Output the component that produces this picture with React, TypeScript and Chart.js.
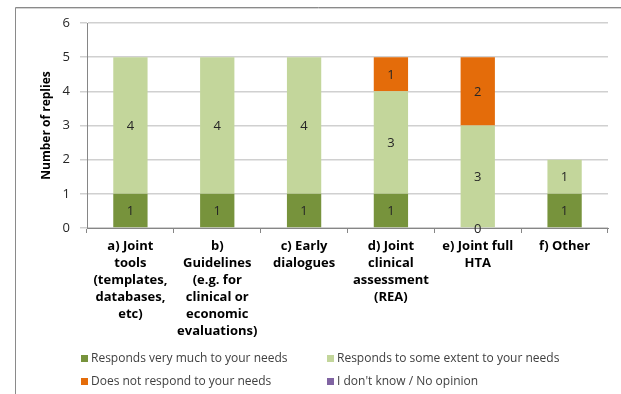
import React, { useEffect, useRef } from "react";
import { Chart, registerables } from "chart.js";

Chart.register(...registerables);

const categories: string[][] = [
  ["a) Joint", "tools", "(templates,", "databases,", "etc)"],
  ["b)", "Guidelines", "(e.g. for", "clinical or", "economic", "evaluations)"],
  ["c) Early", "dialogues"],
  ["d) Joint", "clinical", "assessment", "(REA)"],
  ["e) Joint full", "HTA"],
  ["f) Other"],
];

const seriesNames = [
  "Responds very much to your needs",
  "Responds to some extent to your needs",
  "Does not respond to your needs",
  "I don't know / No opinion",
];

const veryMuch: (number | null)[] = [1, 1, 1, 1, 0, 1];
const someExtent: (number | null)[] = [4, 4, 4, 3, 3, 1];
const notRespond: (number | null)[] = [null, null, null, 1, 2, null];
const dontKnow: (number | null)[] = [null, null, null, null, null, null];

const seriesColors = ["#77933C", "#C3D69B", "#E46C0A", "#8064A2"];

const yMin = 0;
const yMax = 6;
const yStep = 1;

const FONT = "'Open Sans', Lato, sans-serif";

const framePlugin = {
  id: "frame",
  beforeDraw(chart: any) {
    const ctx = chart.ctx;
    ctx.save();
    ctx.fillStyle = "#ffffff";
    ctx.fillRect(0, 0, chart.width, chart.height);
    ctx.strokeStyle = "#8a8a8a";
    ctx.lineWidth = 1;
    ctx.beginPath();
    ctx.moveTo(15.5, chart.height);
    ctx.lineTo(15.5, 7.5);
    ctx.lineTo(chart.width, 7.5);
    ctx.stroke();
    ctx.strokeStyle = "#d4d4d4";
    ctx.beginPath();
    ctx.moveTo(16, 8.5);
    ctx.lineTo(chart.width, 8.5);
    ctx.stroke();
    ctx.restore();
  },
};

const labelPlugin = {
  id: "valueLabels",
  afterDatasetsDraw(chart: any) {
    const ctx = chart.ctx;
    ctx.save();
    ctx.font = `13px ${FONT}`;
    ctx.fillStyle = "#262626";
    ctx.textAlign = "center";
    ctx.textBaseline = "middle";
    chart.data.datasets.forEach((ds: any, di: number) => {
      const meta = chart.getDatasetMeta(di);
      meta.data.forEach((el: any, i: number) => {
        const v = ds.data[i];
        if (v === null || v === undefined) return;
        const y = (el.y + el.base) / 2;
        ctx.fillText(String(v), el.x, y + 1);
      });
    });
    ctx.restore();
  },
};

const legendPlugin = {
  id: "gridLegend",
  afterDraw(chart: any) {
    const ctx = chart.ctx;
    ctx.save();
    ctx.font = `12px ${FONT}`;
    ctx.textBaseline = "middle";
    ctx.textAlign = "left";
    const colX = [81, 327];
    const rowY = [358, 381];
    chart.data.datasets.forEach((ds: any, i: number) => {
      const x = colX[i % 2];
      const y = rowY[Math.floor(i / 2)];
      ctx.fillStyle = ds.backgroundColor;
      ctx.fillRect(x, y - 3, 7, 7);
      ctx.fillStyle = "#404040";
      ctx.fillText(ds.label, x + 10, y + 1);
    });
    ctx.restore();
  },
};

export default function App() {
  const ref = useRef<HTMLCanvasElement>(null);

  useEffect(() => {
    if (!ref.current) return;
    const data = [veryMuch, someExtent, notRespond, dontKnow];
    const chart = new Chart(ref.current, {
      type: "bar",
      data: {
        labels: categories,
        datasets: data.map((d, i) => ({
          label: seriesNames[i],
          data: d,
          backgroundColor: seriesColors[i],
          borderWidth: 0,
          barPercentage: 0.395,
          categoryPercentage: 1,
        })),
      },
      options: {
        responsive: false,
        animation: false,
        devicePixelRatio: 1,
        layout: { padding: { left: 15, top: 23, right: 13, bottom: 0 } },
        plugins: {
          legend: { display: false },
          tooltip: { enabled: false },
          title: { display: false },
        },
        scales: {
          x: {
            stacked: true,
            offset: true,
            grid: {
              display: true,
              drawOnChartArea: false,
              offset: true,
              tickLength: 5,
              color: "#868686",
            },
            border: { display: true, color: "#868686" },
            ticks: {
              color: "#000000",
              font: { family: FONT, size: 13, weight: "bold", lineHeight: 1.3 },
              padding: 5,
              maxRotation: 0,
              autoSkip: false,
            },
            afterFit(scale: any) {
              scale.height = 166;
            },
          },
          y: {
            stacked: true,
            min: yMin,
            max: yMax,
            grid: {
              color: "#d0d0d0",
              lineWidth: 1.5,
              tickLength: 7,
            },
            border: { display: true, color: "#868686" },
            ticks: {
              stepSize: yStep,
              color: "#262626",
              font: { family: FONT, size: 13 },
              padding: 10,
            },
            title: {
              display: true,
              text: "Number of replies",
              color: "#000000",
              font: { family: FONT, size: 12, weight: "bold" },
              padding: { top: 24, bottom: 0 },
            },
            afterFit(scale: any) {
              scale.width = 72;
            },
          },
        },
      },
      plugins: [framePlugin, labelPlugin, legendPlugin],
    });
    return () => chart.destroy();
  }, []);

  return (
    <div style={{ position: "fixed", left: 0, top: 0, width: 621, height: 394 }}>
      <canvas ref={ref} width={621} height={394} style={{ display: "block" }} />
    </div>
  );
}
